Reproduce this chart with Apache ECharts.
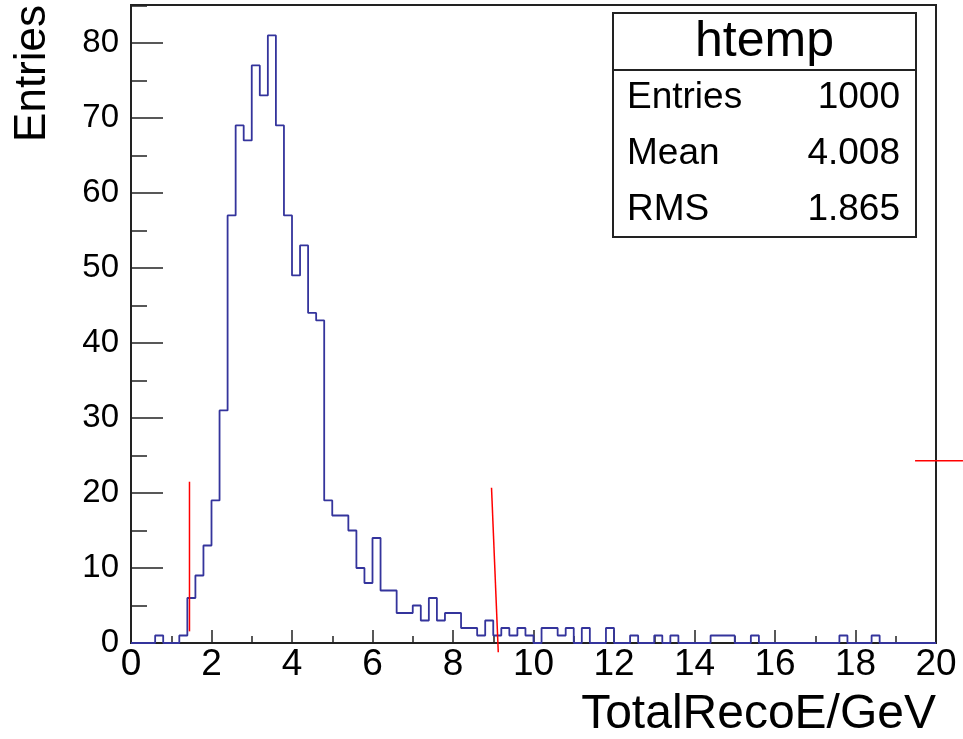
<!DOCTYPE html>
<html>
<head>
<meta charset="utf-8">
<script src="https://cdn.jsdelivr.net/npm/echarts@6/dist/echarts.min.js"></script>
<style>
html,body{margin:0;padding:0;background:#fff;}
#chart{width:963px;height:739px;}
</style>
</head>
<body>
<div id="chart"></div>
<script>
// Histogram: 100 bins of width 0.2 from 0 to 20
const binStart = 0;
const binWidth = 0.2;
const counts = [
  0, 0, 0, 1, 0, 0, 1, 6, 9, 13,          // 0.0 - 2.0
  19, 31, 57, 69, 67, 77, 73, 81, 69, 57, // 2.0 - 4.0
  49, 53, 44, 43, 19, 17, 17, 15, 10, 8,  // 4.0 - 6.0
  14, 7, 7, 4, 4, 5, 3, 6, 3, 4,          // 6.0 - 8.0
  4, 2, 2, 1, 3, 1, 2, 1, 2, 1,           // 8.0 - 10.0
  0, 2, 2, 1, 2, 0, 2, 0, 0, 2,           // 10.0 - 12.0
  0, 0, 1, 0, 0, 1, 0, 1, 0, 0,           // 12.0 - 14.0
  0, 0, 1, 1, 1, 0, 0, 1, 0, 0,           // 14.0 - 16.0
  0, 0, 0, 0, 0, 0, 0, 0, 1, 0,           // 16.0 - 18.0
  0, 0, 1, 0, 0, 0, 0, 0, 0, 0            // 18.0 - 20.0
];
const xTicks = [0, 2, 4, 6, 8, 10, 12, 14, 16, 18, 20];
const yTicks = [0, 10, 20, 30, 40, 50, 60, 70, 80];
const statsTitle = 'htemp';
const statsLabels = ['Entries', 'Mean', 'RMS'];
const statsValues = ['1000', '4.008', '1.865'];
const xTitle = 'TotalRecoE/GeV';
const yTitle = 'Entries';
// red annotation strokes (data coordinates)
const annotations = [
  [[1.453, 21.5], [1.453, 1.55]],
  [[8.957, 20.7], [9.125, -1.24]],
  [[19.48, 24.3], [20.67, 24.3]]
];

const FONT = '"Liberation Sans", Arial, Helvetica, sans-serif';
const yMax = 85.05;
const xMax = 20;

const stepData = counts.map((c, i) => [binStart + i * binWidth, c]);
stepData.push([binStart + counts.length * binWidth, counts[counts.length - 1]]);

const chart = echarts.init(document.getElementById('chart'));

const statsGraphics = [];
const boxX = 613, boxY = 13, boxW = 303, boxH = 224, titleH = 57, rowH = 56;
statsGraphics.push({
  type: 'rect', shape: {x: boxX, y: boxY, width: boxW, height: boxH},
  style: {fill: '#fff', stroke: '#222', lineWidth: 2}, z: 10
});
statsGraphics.push({
  type: 'line', shape: {x1: boxX, y1: boxY + titleH, x2: boxX + boxW, y2: boxY + titleH},
  style: {stroke: '#222', lineWidth: 2}, z: 11
});
statsGraphics.push({
  type: 'text', x: boxX + boxW / 2, y: boxY + titleH / 2 + 1, z: 11,
  style: {text: statsTitle, font: '50px ' + FONT, fill: '#000', align: 'center', verticalAlign: 'middle'}
});
statsLabels.forEach((lab, i) => {
  const cy = boxY + titleH + rowH * (i + 0.5);
  statsGraphics.push({
    type: 'text', x: boxX + 14, y: cy, z: 11,
    style: {text: lab, font: '37px ' + FONT, fill: '#000', align: 'left', verticalAlign: 'middle'}
  });
  statsGraphics.push({
    type: 'text', x: boxX + boxW - 16, y: cy, z: 11,
    style: {text: statsValues[i], font: '37px ' + FONT, fill: '#000', align: 'right', verticalAlign: 'middle'}
  });
});
statsGraphics.push({
  type: 'text', x: 33, y: 5, rotation: Math.PI / 2, z: 11,
  style: {text: yTitle, font: '44px ' + FONT, fill: '#000', align: 'right', verticalAlign: 'middle'}
});

const option = {
  animation: false,
  backgroundColor: '#fff',
  grid: {left: 131, right: 27, top: 5, bottom: 93, show: true, borderColor: '#222', borderWidth: 2, backgroundColor: 'transparent'},
  xAxis: [
    {
      type: 'value', min: 0, max: xMax, interval: 2,
      name: xTitle, nameLocation: 'end', nameGap: 0,
      nameTextStyle: {fontFamily: FONT, fontSize: 48, color: '#000', align: 'right', verticalAlign: 'top', padding: [48, 0, 0, 0]},
      axisLine: {show: true, lineStyle: {color: '#222', width: 2}},
      axisTick: {show: true, inside: true, length: 13, lineStyle: {color: '#222', width: 1.5},
        customValues: xTicks},
      axisLabel: {show: true, fontFamily: FONT, fontSize: 37, color: '#000', margin: 3,
        customValues: xTicks},
      splitLine: {show: false}
    },
    {
      type: 'value', min: 0, max: xMax, interval: 1, position: 'bottom',
      axisLine: {show: false},
      axisTick: {show: true, inside: true, length: 7, lineStyle: {color: '#222', width: 1.5}},
      axisLabel: {show: false},
      splitLine: {show: false}
    }
  ],
  yAxis: [
    {
      type: 'value', min: 0, max: yMax, interval: 10,
      axisLine: {show: true, lineStyle: {color: '#222', width: 2}},
      axisTick: {show: true, inside: true, length: 32, lineStyle: {color: '#222', width: 1.5},
        customValues: yTicks},
      axisLabel: {show: true, fontFamily: FONT, fontSize: 33, color: '#000', margin: 12,
        customValues: yTicks},
      splitLine: {show: false}
    },
    {
      type: 'value', min: 0, max: yMax, interval: 5, position: 'left', offset: 0,
      axisLine: {show: false},
      axisTick: {show: true, inside: true, length: 16, lineStyle: {color: '#222', width: 1.5}},
      axisLabel: {show: false},
      splitLine: {show: false}
    }
  ],
  series: [
    {
      type: 'line', step: 'end', data: stepData,
      xAxisIndex: 0, yAxisIndex: 0,
      showSymbol: false, symbol: 'none',
      lineStyle: {color: '#34349c', width: 1.8},
      silent: true
    }
  ],
  graphic: statsGraphics
};
chart.setOption(option);

// red annotation strokes, positioned through the axes' own scales
const annGraphics = annotations.map(a => {
  const p1 = chart.convertToPixel({xAxisIndex: 0, yAxisIndex: 0}, a[0]);
  const p2 = chart.convertToPixel({xAxisIndex: 0, yAxisIndex: 0}, a[1]);
  return {
    type: 'line', z: 20, silent: true,
    shape: {x1: p1[0], y1: p1[1], x2: p2[0], y2: p2[1]},
    style: {stroke: '#ff0000', lineWidth: 1.5}
  };
});
chart.setOption({graphic: statsGraphics.concat(annGraphics)});
</script>
</body>
</html>
